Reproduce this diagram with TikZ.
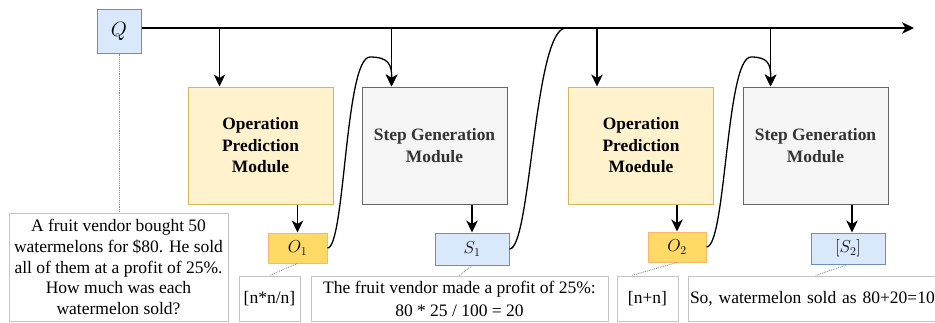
\documentclass[tikz,border=0pt]{standalone}
\usepackage{fontspec}
\setmainfont{Liberation Serif}
\usetikzlibrary{arrows.meta}
\definecolor{qfill}{HTML}{DAE8FC}
\definecolor{qdraw}{HTML}{6C8EBF}
\definecolor{ofill}{HTML}{FFF2CC}
\definecolor{odraw}{HTML}{D6B656}
\definecolor{gfill}{HTML}{F5F5F5}
\definecolor{gdraw}{HTML}{666666}
\definecolor{gtext}{HTML}{333333}
\definecolor{yfill}{HTML}{FFD966}
\definecolor{ydraw}{HTML}{FFB570}
\definecolor{tdraw}{HTML}{C4C4C4}
\definecolor{dotc}{HTML}{8A8A8A}
\begin{document}
\begin{tikzpicture}[x=1pt,y=-1pt,
  arr/.style={-{Stealth[length=12pt,width=11.5pt,inset=3.5pt]}, line width=1.3pt},
  bluebox/.style={draw=qdraw, fill=qfill, line width=1pt, inner sep=0pt},
  opbox/.style={draw=odraw, fill=ofill, line width=1pt, minimum width=145pt, minimum height=117pt,
     align=center, font=\fontsize{17.4}{21.5}\selectfont\bfseries, inner sep=0pt},
  sgbox/.style={draw=gdraw, fill=gfill, line width=1pt, minimum width=145pt, minimum height=117pt,
     align=center, text=gtext, font=\fontsize{17.4}{22}\selectfont\bfseries, inner sep=0pt},
  ybox/.style={draw=ydraw, fill=yfill, line width=1pt, minimum width=58pt, minimum height=30pt, inner sep=0pt,
     font=\fontsize{17.28}{20}\selectfont},
  sbox/.style={bluebox, minimum width=74pt, minimum height=31pt, font=\fontsize{17.28}{20}\selectfont},
  txtbox/.style={draw=tdraw, fill=white, line width=1pt, inner sep=0pt, align=center,
     font=\fontsize{17.5}{20.7}\selectfont},
  dotline/.style={draw=dotc, densely dotted, line width=0.9pt}
]
\useasboundingbox (0,0) rectangle (935,322);
\clip (0,0) rectangle (935,322);

% main nodes
\node[bluebox, minimum width=44pt, minimum height=44pt, font=\fontsize{20.74}{22}\selectfont] (Q) at (119,31) {$Q$};
\node[opbox] (OPM1) at (260.5,145.5) {Operation\\Prediction\\Module};
\node[sgbox] (SGM1) at (434.5,145.5) {Step Generation\\Module};
\node[opbox] (OPM2) at (641,145.5) {Operation\\Prediction\\Moedule};
\node[sgbox] (SGM2) at (815.5,145.5) {Step Generation\\Module};

\node[ybox, minimum width=59pt] (O1) at (297.5,248) {$O_1$};
\node[sbox, minimum height=32pt] (S1) at (472,249) {$S_1$};
\node[ybox] (O2) at (677,247) {$O_2$};
\node[sbox] (S2) at (848,248.5) {$[S_2]$};

% text boxes
\node[txtbox, minimum width=219pt, minimum height=108pt] (QT) at (118.5,267)
  {A fruit vendor bought 50\\watermelons for \$80. He sold\\all of them at a profit of 25\%.\\How much was each\\watermelon sold?};
\node[txtbox, minimum width=61pt, minimum height=45pt] (T1) at (269.5,298.5) {[n*n/n]};
\node[txtbox, minimum width=297pt, minimum height=45pt, font=\fontsize{17.5}{23}\selectfont] (T2) at (459.5,298.5)
  {The fruit vendor made a profit of 25\%:\\80 * 25 / 100 = 20};
\node[txtbox, minimum width=61pt, minimum height=45pt] (T3) at (647.5,298.5) {[n+n]};
\node[txtbox, minimum width=272pt, minimum height=45pt, text width=268pt, align=left, inner xsep=2pt] (T4) at (824,298.5)
  {So, watermelon sold as 80+20=100};

% main line
\coordinate (mainend) at (914,28);
\draw[arr, line width=1.4pt] (Q.east |- mainend) -- (mainend);

% drop arrows
\coordinate (a1) at ([xshift=32pt]OPM1.north west);
\coordinate (a2) at ([xshift=30pt]SGM1.north west);
\coordinate (a3) at ([xshift=29pt]OPM2.north west);
\coordinate (a4) at ([xshift=28pt]SGM2.north west);
\draw[arr] (a1 |- mainend) -- (a1);
\draw[arr] (a2 |- mainend) -- (a2);
\draw[arr] (a3 |- mainend) -- (a3);
\draw[arr] (a4 |- mainend) -- (a4);

\draw[arr] (O1.north |- OPM1.south) -- (O1.north);
\draw[arr] (S1.north |- SGM1.south) -- (S1.north);
\draw[arr] (O2.north |- OPM2.south) -- (O2.north);
\draw[arr] ([xshift=4pt]S2.north |- SGM2.south) -- ([xshift=4pt]S2.north);

% curved feedback connectors
\coordinate (p1) at (370,57);
\coordinate (p3) at (751,57);
\coordinate (j2) at (566,28);
\draw[arr] (O1.east) .. controls (345,248) and (345,57) .. (p1) .. controls (388,57) and (392,64) .. (a2);
\draw[line width=1.3pt] (S1.east) .. controls (531,249) and (534,28) .. (j2);
\draw[arr] (O2.east) .. controls (726,247) and (726,57) .. (p3) .. controls (768,57) and (771,64) .. (a4);

% dotted links
\coordinate (d3) at ([xshift=15pt]T3.north west);
\coordinate (d4) at ([xshift=128pt]T4.north west);
\draw[dotline] (Q.south) -- (Q.south |- QT.north);
\draw[dotline] (O1.south) -- (T1.north);
\draw[dotline] (S1.south) -- (T2.north);
\draw[dotline] (O2.south) -- (d3);
\draw[dotline] (S2.south) -- (d4);
\end{tikzpicture}
\end{document}
